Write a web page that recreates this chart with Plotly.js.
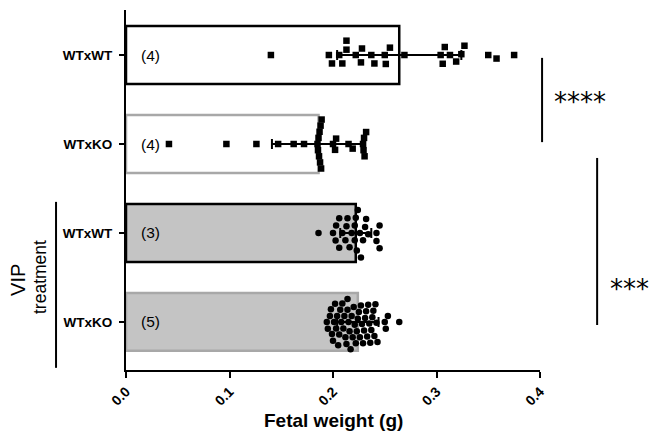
<!DOCTYPE html>
<html>
<head>
<meta charset="utf-8">
<script src="https://cdn.plot.ly/plotly-3.0.1.min.js"></script>
<style>html,body{margin:0;padding:0;background:#fff}#chart{width:650px;height:435px}</style>
</head>
<body>
<div id="chart"></div>
<script>
// ---- data ----
var categories = ['WTxWT', 'WTxKO', 'WTxWT', 'WTxKO'];
var litterLabels = ['(4)', '(4)', '(3)', '(5)'];
var means = [0.264, 0.186, 0.222, 0.224];
var sds = [0.060, 0.045, 0.015, 0.020];
var wtxwt = [0.140, 0.196, 0.199, 0.206, 0.209, 0.213, 0.213, 0.222, 0.227, 0.228, 0.237, 0.240, 0.250,
  0.251, 0.255, 0.269, 0.304, 0.306, 0.308, 0.313, 0.319, 0.324, 0.327, 0.350, 0.358, 0.375];
var wtxko = [0.0415, 0.097, 0.126, 0.147, 0.162, 0.172, 0.185, 0.1855, 0.186, 0.1865, 0.187, 0.1875, 0.188,
  0.1885, 0.189, 0.200, 0.202, 0.203, 0.215, 0.219, 0.229, 0.2295, 0.230, 0.2305, 0.232];
var vipWtxwt = [0.186, 0.200, 0.2025, 0.203, 0.206, 0.206, 0.209, 0.212, 0.213, 0.214, 0.216, 0.218, 0.221,
  0.221, 0.222, 0.223, 0.224, 0.226, 0.227, 0.229, 0.231, 0.232, 0.234, 0.242, 0.242, 0.245, 0.245];
var vipWtxko = [0.194, 0.195, 0.197, 0.198, 0.199, 0.200, 0.201, 0.202, 0.203, 0.204, 0.205, 0.206, 0.207,
  0.208, 0.209, 0.210, 0.211, 0.212, 0.213, 0.214, 0.214, 0.215, 0.216, 0.217, 0.218, 0.219, 0.220, 0.221,
  0.222, 0.223, 0.224, 0.225, 0.226, 0.227, 0.228, 0.229, 0.230, 0.231, 0.232, 0.233, 0.234, 0.235, 0.236,
  0.237, 0.238, 0.239, 0.240, 0.241, 0.242, 0.243, 0.250, 0.251, 0.253, 0.264];
var xTicks = [0, 0.1, 0.2, 0.3, 0.4];
var xTickText = ['0.0', '0.1', '0.2', '0.3', '0.4'];

// ---- layout geometry ----
var W = 650, H = 435;
var M = {l: 126, r: 110, t: 10, b: 65};
var xRange = [0, 0.4];
var yRange = [3.54, -0.506];
var pxPerX = (W - M.l - M.r) / (xRange[1] - xRange[0]);
var pxPerY = (H - M.t - M.b) / (yRange[0] - yRange[1]);

// beeswarm: offsets (in y data units) so markers do not overlap
function swarm(vals, d) {
  var placed = [], offs = new Array(vals.length);
  var idx = vals.map(function (v, i) { return i; }).sort(function (a, b) { return vals[a] - vals[b]; });
  idx.forEach(function (i) {
    var x = vals[i] * pxPerX;
    var cands = [0];
    placed.forEach(function (p) {
      var dx = x - p.x;
      if (Math.abs(dx) < d) { var h = Math.sqrt(d * d - dx * dx); cands.push(p.y + h, p.y - h); }
    });
    cands.sort(function (a, b) { return Math.abs(a) - Math.abs(b); });
    var y = 0;
    for (var k = 0; k < cands.length; k++) {
      var c = cands[k];
      var ok = placed.every(function (p) { return (x - p.x) * (x - p.x) + (c - p.y) * (c - p.y) >= d * d - 1e-6; });
      if (ok) { y = c; break; }
    }
    placed.push({x: x, y: y});
    offs[i] = y / pxPerY;
  });
  return offs;
}

function pointsTrace(vals, row, symbol, size, d) {
  var offs = swarm(vals, d);
  return {
    type: 'scatter', mode: 'markers',
    x: vals, y: offs.map(function (o) { return row + o; }),
    marker: {symbol: symbol, size: size, color: '#000'},
    hoverinfo: 'x', cliponaxis: false
  };
}

var rows = categories.map(function (c, i) { return i; });

var traces = [
  {
    type: 'bar', orientation: 'h', x: means, y: rows,
    width: [0.65, 0.65, 0.65, 0.65],
    marker: {
      color: ['#ffffff', '#ffffff', '#c4c4c4', '#c4c4c4'],
      line: {color: ['#000000', '#a8a8a8', '#000000', '#a8a8a8'], width: 2.5}
    },
    hoverinfo: 'x'
  },
  pointsTrace(wtxwt, 0, 'square', 6.5, 9),
  pointsTrace(wtxko, 1, 'square', 6.5, 6.2),
  pointsTrace(vipWtxwt, 2, 'circle', 6.5, 8),
  pointsTrace(vipWtxko, 3, 'circle', 6.5, 6.8),
  {
    type: 'scatter', mode: 'markers', x: means, y: rows,
    marker: {size: 1, color: 'rgba(0,0,0,0)'},
    error_x: {type: 'data', array: sds, visible: true, color: '#000', thickness: 2, width: 5},
    hoverinfo: 'skip'
  }
];

var annotations = litterLabels.map(function (t, i) {
  return {x: 0.013, y: i, xref: 'x', yref: 'y', text: t, showarrow: false, xanchor: 'left',
    font: {size: 15.5, color: '#000', family: 'Liberation Sans, Arial, sans-serif'}};
});
annotations.push(
  {x: 0.5, y: -0.139, xref: 'paper', yref: 'paper', text: 'Fetal weight (g)', showarrow: false,
    xanchor: 'center', yanchor: 'middle', font: {size: 19, weight: 'bold', color: '#000'}},
  {x: -0.261, y: 0.25, xref: 'paper', yref: 'paper', text: 'VIP', textangle: -90, showarrow: false,
    xanchor: 'center', yanchor: 'middle', font: {size: 20, color: '#000'}},
  {x: -0.208, y: 0.258, xref: 'paper', yref: 'paper', text: 'treatment', textangle: -90, showarrow: false,
    xanchor: 'center', yanchor: 'middle', font: {size: 17.5, color: '#000'}},
  {x: 1.029, y: 0.745, xref: 'paper', yref: 'paper', text: '****', showarrow: false,
    xanchor: 'left', yanchor: 'middle', font: {size: 26, color: '#000', family: 'DejaVu Sans'}},
  {x: 1.164, y: 0.225, xref: 'paper', yref: 'paper', text: '***', showarrow: false,
    xanchor: 'left', yanchor: 'middle', font: {size: 26, color: '#000', family: 'DejaVu Sans'}}
);

var shapes = [
  {type: 'line', xref: 'paper', yref: 'paper', x0: 1.005, x1: 1.005, y0: 0.867, y1: 0.633, line: {color: '#000', width: 2}},
  {type: 'line', xref: 'paper', yref: 'paper', x0: 1.138, x1: 1.138, y0: 0.589, y1: 0.125, line: {color: '#000', width: 2}},
  {type: 'line', xref: 'paper', yref: 'paper', x0: -0.169, x1: -0.169, y0: 0.467, y1: 0.006, line: {color: '#000', width: 2}}
];

var layout = {
  width: W, height: H, margin: M,
  showlegend: false,
  paper_bgcolor: '#fff', plot_bgcolor: '#fff',
  font: {family: 'Liberation Sans, Arial, sans-serif', color: '#000'},
  xaxis: {
    range: xRange, tickvals: xTicks, ticktext: xTickText, tickangle: -45,
    showline: true, linewidth: 2, linecolor: '#000', ticks: 'outside', ticklen: 6, tickwidth: 2, tickcolor: '#000',
    showgrid: false, zeroline: false, tickfont: {size: 14, weight: 'bold'}, fixedrange: true
  },
  yaxis: {
    range: yRange, tickvals: rows, ticktext: categories,
    showline: true, linewidth: 2, linecolor: '#000', ticks: 'outside', ticklen: 5, tickwidth: 2, tickcolor: '#000',
    ticklabelstandoff: 4,
    showgrid: false, zeroline: false, tickfont: {size: 13.5, weight: 'bold'}, fixedrange: true
  },
  annotations: annotations,
  shapes: shapes
};

Plotly.newPlot('chart', traces, layout, {displayModeBar: false, staticPlot: true});
</script>
</body>
</html>
